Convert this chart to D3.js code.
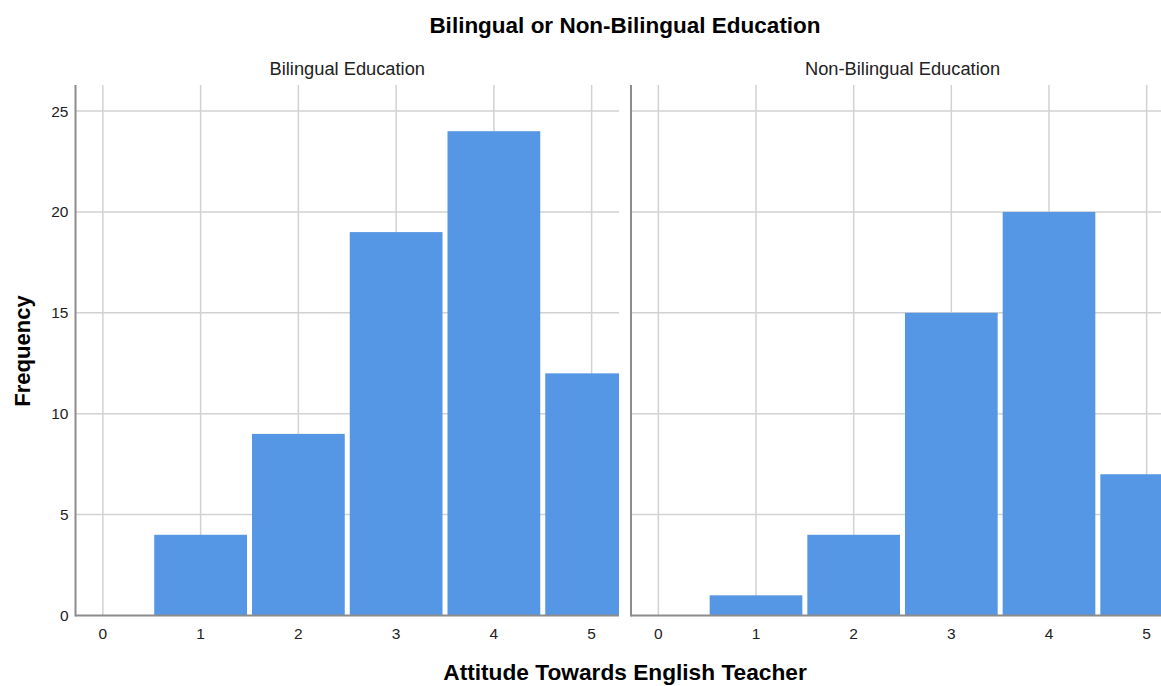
<!DOCTYPE html>
<html><head><meta charset="utf-8">
<script src="https://cdn.jsdelivr.net/npm/d3@7"></script>
<style>body{margin:0;background:#fff}svg{display:block}text{font-family:"Liberation Sans",Arial,sans-serif;fill:#000}</style>
</head><body>
<svg id="c" width="1161" height="686"></svg>
<script>
const categories = [0, 1, 2, 3, 4, 5];
const panels = ["Bilingual Education", "Non-Bilingual Education"];
const bilingualValues = [0, 4, 9, 19, 24, 12];
const nonBilingualValues = [0, 1, 4, 15, 20, 7];
const yTicks = [0, 5, 10, 15, 20, 25];
const seriesValues = [bilingualValues, nonBilingualValues];

const svg = d3.select("#c");
const plotTop = 85, plotBottom = 615.5;
const panelX = [[75.5, 619], [631, 1174]];
const y = d3.scaleLinear().domain([0, 26.29]).range([plotBottom, plotTop]);
const inset = 2.5;

svg.append("text").attr("x", 625).attr("y", 33).attr("text-anchor", "middle")
  .style("font-weight", "bold").style("font-size", "22.5px").text("Bilingual or Non-Bilingual Education");
svg.append("text").attr("transform", "translate(30,351) rotate(-90)").attr("text-anchor", "middle")
  .style("font-weight", "bold").style("font-size", "22px").text("Frequency");
svg.append("text").attr("x", 625).attr("y", 680).attr("text-anchor", "middle")
  .style("font-weight", "bold").style("font-size", "22.7px").text("Attitude Towards English Teacher");

panels.forEach((name, pi) => {
  const [x0, x1] = panelX[pi];
  const x = d3.scaleLinear().domain([-0.28, 5.28]).range([x0, x1]);
  const g = svg.append("g");
  const clipId = "clip" + pi;
  svg.append("clipPath").attr("id", clipId).append("rect")
    .attr("x", x0).attr("y", plotTop).attr("width", x1 - x0).attr("height", plotBottom - plotTop);
  g.selectAll(".hg").data(yTicks.filter(d => d > 0)).join("line")
    .attr("x1", x0).attr("x2", x1).attr("y1", d => y(d)).attr("y2", d => y(d))
    .attr("stroke", "#d2d2d2").attr("stroke-width", 1.5);
  g.selectAll(".vg").data(categories).join("line")
    .attr("x1", d => x(d)).attr("x2", d => x(d)).attr("y1", plotTop).attr("y2", plotBottom)
    .attr("stroke", "#d2d2d2").attr("stroke-width", 1.5);
  g.append("g").attr("clip-path", `url(#${clipId})`).selectAll("rect")
    .data(categories.map((c, i) => ({c, v: seriesValues[pi][i]})).filter(d => d.v > 0))
    .join("rect")
    .attr("x", d => x(d.c - 0.5) + inset).attr("width", d => x(d.c + 0.5) - x(d.c - 0.5) - 2 * inset)
    .attr("y", d => y(d.v)).attr("height", d => plotBottom - y(d.v))
    .attr("fill", "#5596e5");
  g.append("line").attr("x1", x0).attr("x2", x0).attr("y1", plotTop).attr("y2", plotBottom + 1)
    .attr("stroke", "#8c8c8c").attr("stroke-width", 2);
  g.append("line").attr("x1", x0).attr("x2", x1).attr("y1", plotBottom).attr("y2", plotBottom)
    .attr("stroke", "#8c8c8c").attr("stroke-width", 2);
  g.selectAll(".xt").data(categories).join("text")
    .attr("x", d => x(d)).attr("y", plotBottom + 23).attr("text-anchor", "middle")
    .style("font-size", "15.5px").style("fill", "#222").text(d => d);
  g.append("text").attr("x", (x0 + x1) / 2).attr("y", 75).attr("text-anchor", "middle")
    .style("font-size", "18.3px").style("fill", "#222").text(name);
});
svg.selectAll(".yt").data(yTicks).join("text")
  .attr("x", 68.5).attr("y", d => y(d) + 5.5).attr("text-anchor", "end")
  .style("font-size", "15.5px").style("fill", "#222").text(d => d);
</script>
</body></html>
